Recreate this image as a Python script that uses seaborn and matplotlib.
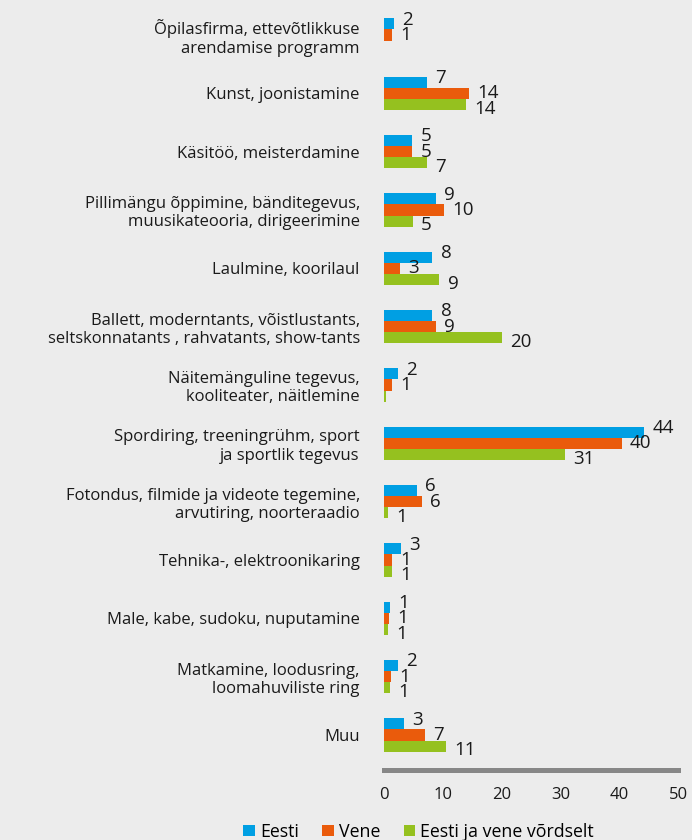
import pandas as pd
import seaborn as sns
import matplotlib.pyplot as plt
from matplotlib.patches import Patch

categories = [
    "Õpilasfirma, ettevõtlikkuse\narendamise programm",
    "Kunst, joonistamine",
    "Käsitöö, meisterdamine",
    "Pillimängu õppimine, bänditegevus,\nmuusikateooria, dirigeerimine",
    "Laulmine, koorilaul",
    "Ballett, moderntants, võistlustants,\nseltskonnatants , rahvatants, show-tants",
    "Näitemänguline tegevus,\nkooliteater, näitlemine",
    "Spordiring, treeningrühm, sport\nja sportlik tegevus",
    "Fotondus, filmide ja videote tegemine,\narvutiring, noorteraadio",
    "Tehnika-, elektroonikaring",
    "Male, kabe, sudoku, nuputamine",
    "Matkamine, loodusring,\nloomahuviliste ring",
    "Muu",
]
series = ["Eesti", "Vene", "Eesti ja vene võrdselt"]
eesti = [1.7, 7.3, 4.8, 8.8, 8.2, 8.2, 2.4, 44.2, 5.6, 2.9, 1.0, 2.4, 3.4]
vene = [1.36, 14.4, 4.8, 10.2, 2.7, 8.8, 1.4, 40.4, 6.4, 1.4, 0.85, 1.2, 7.0]
vordselt = [0.0, 13.9, 7.3, 4.9, 9.4, 20.1, 0.4, 30.8, 0.7, 1.4, 0.6, 1.0, 10.5]
x_ticks = [0, 10, 20, 30, 40, 50]

colors = ["#009fe3", "#ea5b0c", "#95c11f"]
bg = "#ececec"

rows = []
for name, vals in zip(series, [eesti, vene, vordselt]):
    for cat, v in zip(categories, vals):
        rows.append({"kategooria": cat, "rühm": name, "väärtus": v})
df = pd.DataFrame(rows)

plt.rcParams["font.family"] = ["Open Sans", "DejaVu Sans"]

fig = plt.figure(figsize=(6.92, 8.4), dpi=100, facecolor=bg)
ax = fig.add_axes([0.555, 0.0833, 0.425, 0.9167])
ax.set_facecolor(bg)

sns.barplot(data=df, y="kategooria", x="väärtus", hue="rühm", hue_order=series,
            palette=colors, orient="h", width=0.57, gap=0, saturation=1,
            legend=False, ax=ax, linewidth=0)

# value labels, staggered vertically like the original
y_shift = [3, 0, -3]
for cont, shift in zip(ax.containers, y_shift):
    for bar in cont:
        w = bar.get_width()
        lab = int(w + 0.5)
        if lab == 0:
            continue
        yc = bar.get_y() + bar.get_height() / 2
        ax.annotate(str(lab), (w, yc), xytext=(6, shift), textcoords="offset points",
                    ha="left", va="center", fontsize=13.5, color="#1a1a1a")

ax.set_xlim(0, 50)
ax.set_ylim(12.6, -0.6)
ax.set_xticks(x_ticks)
ax.set_xlabel("")
ax.set_ylabel("")

for s in ["top", "right", "left"]:
    ax.spines[s].set_visible(False)
ax.spines["bottom"].set_color("#878787")
ax.spines["bottom"].set_linewidth(3.6)

ax.tick_params(left=False, bottom=False, labelsize=12, colors="#1a1a1a")
ax.tick_params(axis="y", pad=14)
ax.tick_params(axis="x", pad=9)
for t in ax.get_yticklabels():
    t.set_linespacing(1.2)
    t.set_fontsize(12)

handles = [Patch(facecolor=c, edgecolor="none") for c in colors]
fig.legend(handles, series, loc="lower center", bbox_to_anchor=(0.605, -0.02), ncol=3,
           frameon=False, fontsize=12.8, handlelength=0.65, handleheight=0.65,
           handletextpad=0.3, columnspacing=1.3)

fig.savefig("out.png", dpi=100, facecolor=bg)
